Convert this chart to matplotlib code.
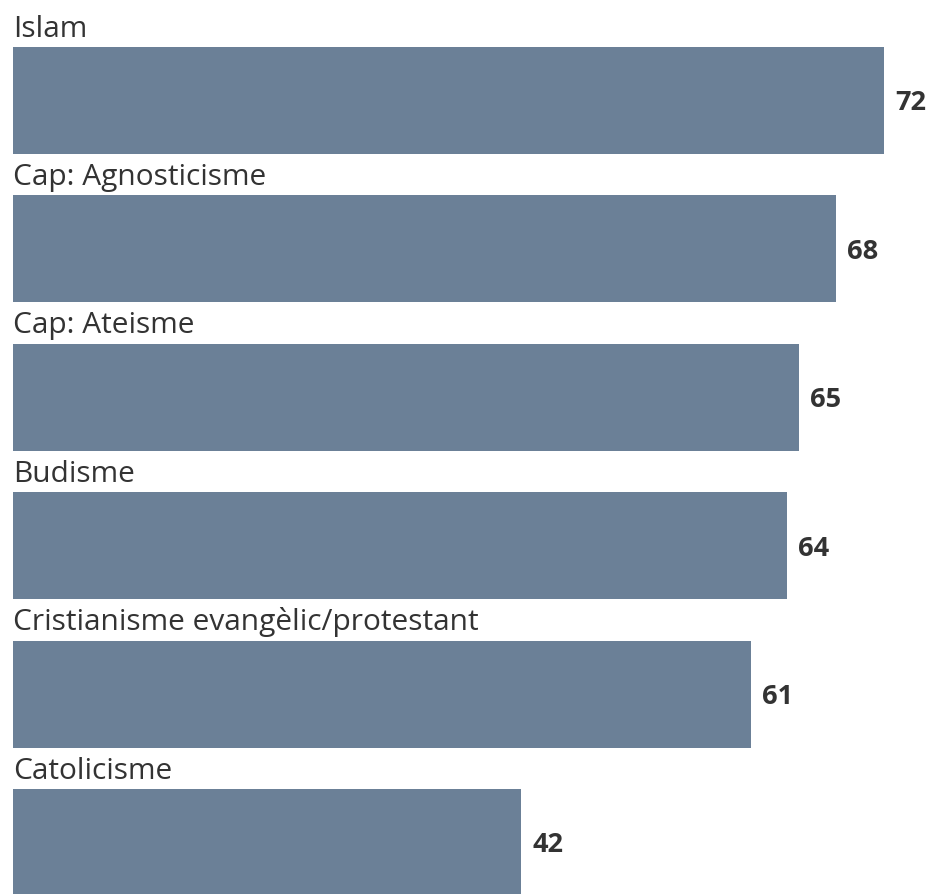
import matplotlib
matplotlib.use("Agg")
import matplotlib.pyplot as plt

# ---------- Data ----------
categories = [
    "Islam",
    "Cap: Agnosticisme",
    "Cap: Ateisme",
    "Budisme",
    "Cristianisme evangèlic/protestant",
    "Catolicisme",
]
values = [72, 68, 65, 64, 61, 42]

BAR_COLOR = "#6b8097"
TEXT_COLOR = "#333333"
FONT = ["Open Sans", "DejaVu Sans"]

fig = plt.figure(figsize=(9.35, 8.94), dpi=100)
ax = fig.add_axes([13 / 935, 0, 1 - 13 / 935, 1])

ypos = list(range(len(categories)))
bar_h = 0.72
ax.barh(ypos, values, height=bar_h, color=BAR_COLOR, align="center")

for y, cat, v in zip(ypos, categories, values):
    ax.text(0, y - bar_h / 2 - 0.07, cat, ha="left", va="baseline",
            fontsize=21.5, color=TEXT_COLOR, family=FONT)
    ax.text(v + 0.9, y + 0.02, str(v), ha="left", va="center",
            fontsize=19.5, fontweight="bold", color=TEXT_COLOR, family=FONT)

ax.set_xlim(0, 76.2)
ax.set_ylim(5.347, -0.677)
ax.axis("off")

fig.savefig("out.png", dpi=100, facecolor="white")
